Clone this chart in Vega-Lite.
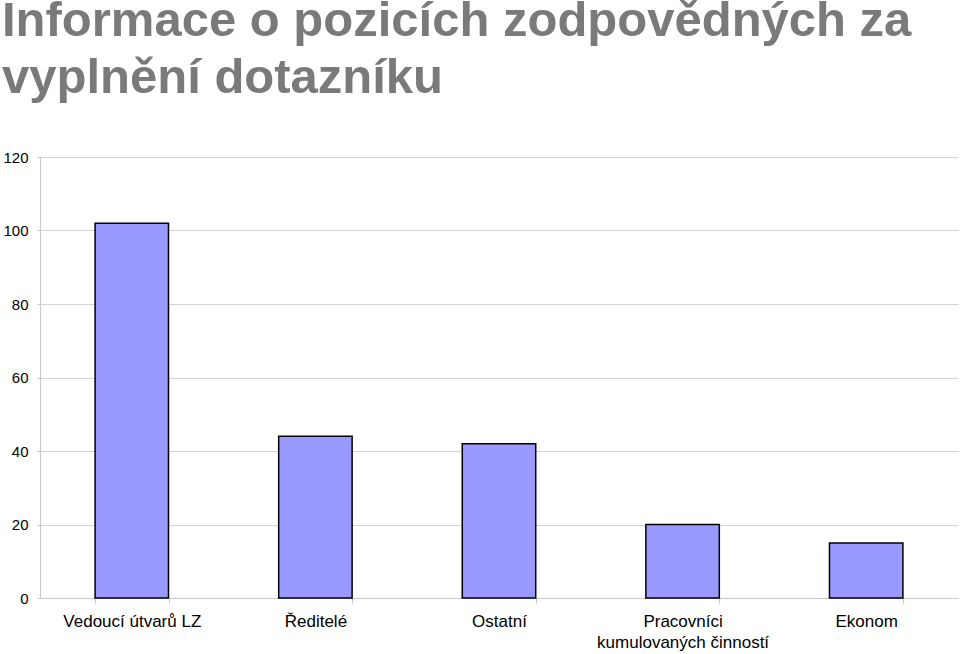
{
  "$schema": "https://vega.github.io/schema/vega-lite/v6.json",
  "autosize": "none",
  "width": 918,
  "height": 441,
  "padding": {"left": 40, "top": 157, "right": 2, "bottom": 56},
  "background": "white",
  "title": {
    "text": ["Informace o pozicích zodpovědných za", "vyplnění dotazníku"],
    "anchor": "start",
    "frame": "group",
    "dx": -38,
    "offset": 8,
    "baseline": "alphabetic",
    "font": "Liberation Sans",
    "fontSize": 49,
    "fontWeight": "bold",
    "color": "#7a7a7a",
    "lineHeight": 57
  },
  "data": {
    "values": [
      {"pozice": "Vedoucí útvarů LZ", "pocet": 102},
      {"pozice": "Ředitelé", "pocet": 44},
      {"pozice": "Ostatní", "pocet": 42},
      {"pozice": "Pracovníci kumulovaných činností", "pocet": 20},
      {"pozice": "Ekonom", "pocet": 15}
    ]
  },
  "mark": {"type": "bar", "fill": "#9999ff", "stroke": "#000000", "strokeWidth": 1.5},
  "encoding": {
    "x": {
      "field": "pozice",
      "type": "nominal",
      "sort": null,
      "scale": {"paddingInner": 0.6, "paddingOuter": 0.3},
      "axis": {
        "title": null,
        "labelAngle": 0,
        "labelFont": "Liberation Sans",
        "labelFontSize": 17,
        "labelColor": "#000000",
        "labelPadding": 10,
        "labelLineHeight": 21,
        "labelExpr": "datum.value == 'Pracovníci kumulovaných činností' ? ['Pracovníci', 'kumulovaných činností'] : datum.value",
        "tickBand": "extent",
        "tickSize": 5,
        "tickColor": "#c8c8c8",
        "domainColor": "#c8c8c8",
        "grid": false
      }
    },
    "y": {
      "field": "pocet",
      "type": "quantitative",
      "scale": {"domain": [0, 120], "nice": false},
      "axis": {
        "title": null,
        "values": [0, 20, 40, 60, 80, 100, 120],
        "labelFont": "Liberation Sans",
        "labelFontSize": 15,
        "labelColor": "#000000",
        "labelPadding": 9,
        "tickSize": 3,
        "tickColor": "#c8c8c8",
        "domainColor": "#c8c8c8",
        "grid": true,
        "gridColor": "#d4d4d4"
      }
    }
  },
  "config": {"view": {"stroke": null}}
}
